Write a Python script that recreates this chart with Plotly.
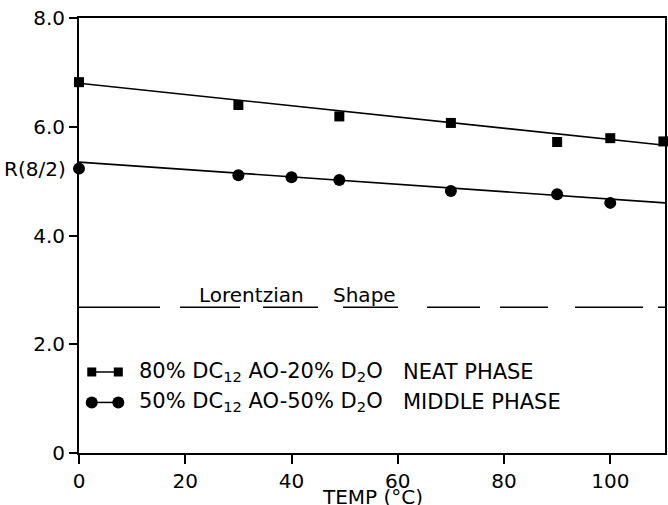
import plotly.graph_objects as go

# Temperature (deg C) and R(8/2) ratios for the two phases
neat_temp = [0, 30, 49, 70, 90, 100, 110]
neat_r = [6.82, 6.40, 6.19, 6.07, 5.72, 5.79, 5.73]

middle_temp = [0, 30, 40, 49, 70, 90, 100]
middle_r = [5.23, 5.11, 5.07, 5.02, 4.82, 4.76, 4.60]

# Straight-line fits drawn across the temperature range
fit_temp = [0, 110.3]
neat_fit = [6.80, 5.66]
middle_fit = [5.35, 4.60]

# Level of the Lorentzian line-shape limit
lorentz_level = 2.68

x_ticks = [0, 20, 40, 60, 80, 100]
x_tick_text = ["0", "20", "40", "60", "80", "100"]
y_ticks = [0, 2, 4, 6, 8]
y_tick_text = ["0", "2.0", "4.0", "6.0", "8.0"]

FONT = "DejaVu Sans"
INK = "black"

fig = go.Figure()

# fitted lines
fig.add_trace(go.Scatter(x=fit_temp, y=neat_fit, mode="lines",
                         line=dict(color=INK, width=1.6), hoverinfo="skip"))
fig.add_trace(go.Scatter(x=fit_temp, y=middle_fit, mode="lines",
                         line=dict(color=INK, width=1.6), hoverinfo="skip"))

# measured points
fig.add_trace(go.Scatter(x=neat_temp, y=neat_r, mode="markers",
                         marker=dict(symbol="square", size=10, color=INK),
                         cliponaxis=False))
fig.add_trace(go.Scatter(x=middle_temp, y=middle_r, mode="markers",
                         marker=dict(symbol="circle", size=12, color=INK),
                         cliponaxis=False))

# Lorentzian limit, drawn as a broken line
fig.add_trace(go.Scatter(
    x=[0, 110.3], y=[lorentz_level, lorentz_level], mode="lines",
    line=dict(color=INK, width=1.3,
              dash="81px,20px,60px,23px,55px,25px,55px,29px,53px,20px,48px,27px,68px,15px,20px"),
    hoverinfo="skip"))

# legend keys: marker - line - marker
key_x = [2.4, 7.4]
fig.add_trace(go.Scatter(x=key_x, y=[1.49, 1.49], mode="lines+markers",
                         line=dict(color=INK, width=1.5),
                         marker=dict(symbol="square", size=9, color=INK)))
fig.add_trace(go.Scatter(x=key_x, y=[0.93, 0.93], mode="lines+markers",
                         line=dict(color=INK, width=1.5),
                         marker=dict(symbol="circle", size=12, color=INK)))

annotations = [
    dict(x=-77 / 588, xref="paper", y=5.22, yref="y", xanchor="left", yanchor="middle",
         text="R(8/2)", showarrow=False, font=dict(family=FONT, size=20, color=INK)),
    dict(x=0.5, xref="paper", y=-0.100, yref="paper", xanchor="center", yanchor="middle",
         text="TEMP (°C)", showarrow=False, borderpad=0,
         font=dict(family=FONT, size=20, color=INK)),
    dict(x=22.2, y=2.9, xanchor="left", yanchor="middle", text="Lorentzian",
         showarrow=False, font=dict(family=FONT, size=20, color=INK)),
    dict(x=47.5, y=2.9, xanchor="left", yanchor="middle", text="Shape",
         showarrow=False, font=dict(family=FONT, size=20, color=INK)),
    dict(x=11.0, y=1.49, xanchor="left", yanchor="middle",
         text="80% DC<sub>12</sub> AO-20% D<sub>2</sub>O",
         showarrow=False, font=dict(family=FONT, size=21, color=INK)),
    dict(x=60.6, y=1.49, xanchor="left", yanchor="middle", text="NEAT PHASE",
         showarrow=False, font=dict(family=FONT, size=21, color=INK)),
    dict(x=11.0, y=0.93, xanchor="left", yanchor="middle",
         text="50% DC<sub>12</sub> AO-50% D<sub>2</sub>O",
         showarrow=False, font=dict(family=FONT, size=21, color=INK)),
    dict(x=60.6, y=0.93, xanchor="left", yanchor="middle", text="MIDDLE PHASE",
         showarrow=False, font=dict(family=FONT, size=21, color=INK)),
]

fig.update_layout(
    width=668, height=505,
    margin=dict(l=79, r=1, t=18, b=52),
    paper_bgcolor="white", plot_bgcolor="white",
    showlegend=False,
    font=dict(family=FONT, size=20, color=INK),
    annotations=annotations,
    xaxis=dict(range=[0, 110.3], tickvals=x_ticks, ticktext=x_tick_text,
               showgrid=False, zeroline=False, showline=True, mirror=True,
               linecolor=INK, linewidth=2, ticks="outside", ticklen=9,
               tickwidth=2, tickcolor=INK,
               tickfont=dict(family=FONT, size=20, color=INK)),
    yaxis=dict(range=[0, 8], tickvals=y_ticks, ticktext=y_tick_text,
               showgrid=False, zeroline=False, showline=True, mirror=True,
               linecolor=INK, linewidth=2, ticks="outside", ticklen=8,
               tickwidth=2, tickcolor=INK,
               tickfont=dict(family=FONT, size=20, color=INK)),
)

fig.write_html("out.html")
